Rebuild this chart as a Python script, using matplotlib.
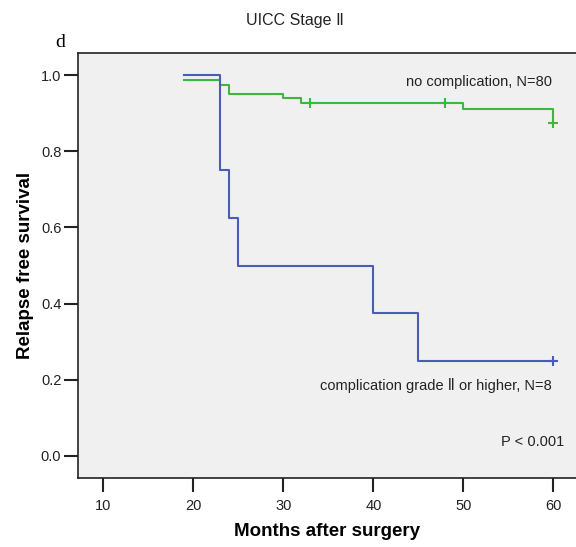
import matplotlib
matplotlib.use("Agg")
import matplotlib.pyplot as plt

plt.rcParams["font.family"] = ["Liberation Sans", "DejaVu Sans"]

# Kaplan-Meier step points (months, survival)
comp_times = [19, 23, 24, 25, 40, 45, 60]
comp_surv = [1.0, 0.75, 0.625, 0.5, 0.375, 0.25, 0.25]
comp_cens_t = [60]
comp_cens_s = [0.25]

nocomp_times = [19, 23, 24, 30, 32, 50, 60]
nocomp_surv = [0.9875, 0.975, 0.951, 0.94, 0.927, 0.912, 0.875]
nocomp_cens_t = [33, 48, 60]
nocomp_cens_s = [0.927, 0.927, 0.875]

x_ticks = [10, 20, 30, 40, 50, 60]
y_ticks = [0.0, 0.2, 0.4, 0.6, 0.8, 1.0]

GREEN = "#3db83d"
BLUE = "#4a5cb8"

fig = plt.figure(figsize=(5.76, 5.47), dpi=100)
ax = fig.add_axes([0.1354, 0.1261, 0.8646, 0.777])
ax.set_facecolor("#f0f0f0")

ax.step(nocomp_times, nocomp_surv, where="post", color=GREEN, lw=1.5)
ax.plot(nocomp_cens_t, nocomp_cens_s, "+", color=GREEN, ms=7, mew=1.5)
ax.step(comp_times, comp_surv, where="post", color=BLUE, lw=1.5)
ax.plot(comp_cens_t, comp_cens_s, "+", color=BLUE, ms=7, mew=1.5)

ax.set_xlim(7.2, 62.5)
ax.set_ylim(-0.058, 1.058)
ax.set_xticks(x_ticks)
ax.set_yticks(y_ticks)
ax.set_yticklabels([f"{v:.1f}" for v in y_ticks])
ax.tick_params(axis="both", direction="out", length=10, width=1.5,
               labelsize=10.5, colors="#222222", pad=2)
ax.tick_params(axis="x", length=10, pad=5)
ax.spines["right"].set_visible(False)
for s in ("left", "bottom", "top"):
    ax.spines[s].set_linewidth(1.2)
    ax.spines[s].set_color("#222222")

ax.text(59.8, 0.982, "no complication, N=80", ha="right", va="center",
        fontsize=10.5, color="#222222")
ax.text(59.8, 0.184, "complication grade \u2161 or higher, N=8", ha="right",
        va="center", fontsize=10.5, color="#222222")
ax.text(61.2, 0.037, "P < 0.001", ha="right", va="center",
        fontsize=10.5, color="#222222")

ax.set_xlabel("Months after surgery", fontsize=13.5, fontweight="bold", labelpad=7)
ax.set_ylabel("Relapse free survival", fontsize=13.5, fontweight="bold", labelpad=5)

fig.text(0.512, 0.963, "UICC Stage \u2161", ha="center", va="center", fontsize=11.5,
         color="#222222")
fig.text(0.104, 0.922, "d", ha="center", va="center", fontsize=14,
         family="Liberation Serif")

fig.savefig("out.png", dpi=100)
